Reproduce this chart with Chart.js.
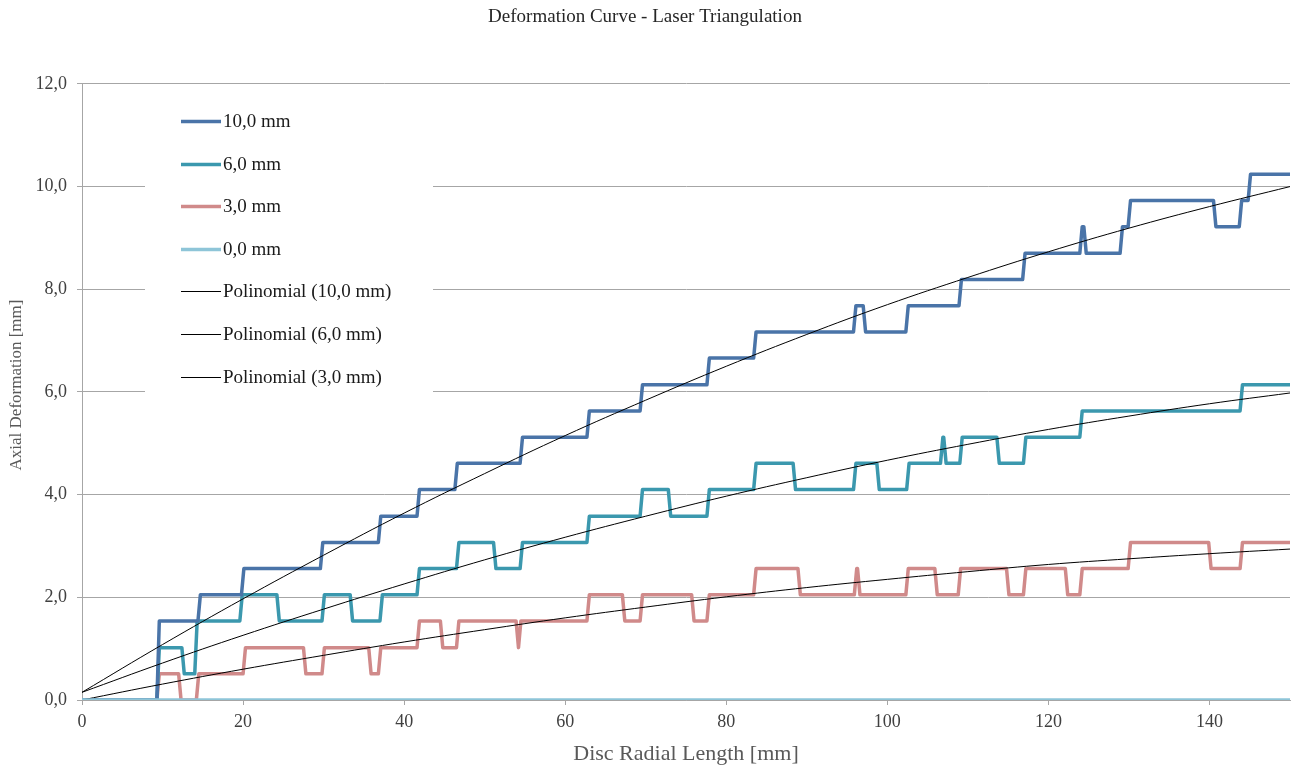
<!DOCTYPE html>
<html>
<head>
<meta charset="utf-8">
<title>Deformation Curve - Laser Triangulation</title>
<script src="https://cdn.jsdelivr.net/npm/chart.js@4.4.1/dist/chart.umd.min.js"></script>
<style>
  html, body { margin: 0; padding: 0; background: #fff; }
  #wrap { width: 1294px; height: 765px; }
</style>
</head>
<body>
<div id="wrap"><canvas id="deformation-chart" width="1294" height="765"></canvas></div>
<script>
// Measured profiles: x [mm] where the reading jumps, and the new level [mm]
const steps10X = [9.3, 14.4, 19.8, 29.6, 36.8, 41.6, 46.3, 54.4, 62.7, 69.3, 77.6, 83.4,
  95.8, 97.0, 102.3, 108.9, 116.8, 123.9, 124.4, 128.9, 129.9, 140.5, 143.7, 144.8];
const steps10Y = [1.54, 2.05, 2.56, 3.07, 3.58, 4.10, 4.61, 5.12, 5.63, 6.14, 6.66, 7.17,
  7.68, 7.17, 7.68, 8.19, 8.70, 9.22, 8.70, 9.22, 9.73, 9.22, 9.73, 10.24];

const steps6X = [9.3, 12.4, 14.0, 19.6, 24.2, 29.8, 33.3, 37.0, 41.6, 46.5, 51.1, 54.4,
  62.7, 69.3, 72.8, 77.6, 83.4, 88.3, 95.8, 98.7, 102.4, 106.6, 107.0, 109.0, 113.6, 116.9, 123.9, 143.8];
const steps6Y = [1.02, 0.51, 1.54, 2.05, 1.54, 2.05, 1.54, 2.05, 2.56, 3.07, 2.56, 3.07,
  3.58, 4.10, 3.58, 4.10, 4.61, 4.10, 4.61, 4.10, 4.61, 5.12, 4.61, 5.12, 4.61, 5.12, 5.63, 6.14];

const steps3X = [9.3, 12.0, 14.2, 20.0, 27.5, 29.8, 35.6, 36.8, 41.6, 44.5, 46.5, 53.9, 54.2,
  62.7, 67.1, 69.3, 75.7, 77.6, 83.4, 88.9, 95.9, 96.3, 102.3, 105.9, 108.8, 114.8, 116.9,
  122.1, 123.9, 129.9, 139.9, 143.8];
const steps3Y = [0.51, 0.00, 0.51, 1.02, 0.51, 1.02, 0.51, 1.02, 1.54, 1.02, 1.54, 1.02, 1.54,
  2.05, 1.54, 2.05, 1.54, 2.05, 2.56, 2.05, 2.56, 2.05, 2.56, 2.05, 2.56, 2.05, 2.56,
  2.05, 2.56, 3.07, 2.56, 3.07];

const steps0X = [];
const steps0Y = [];

// Polynomial trend lines, sampled every 10 mm
const trendX = [0, 10, 20, 30, 40, 50, 60, 70, 80, 90, 100, 110, 120, 130, 140, 150];
const trend10Y = [0.15, 1.08, 1.97, 2.82, 3.64, 4.41, 5.15, 5.84, 6.50, 7.12, 7.70, 8.23, 8.73, 9.19, 9.61, 10.00];
const trend6Y = [0.15, 0.72, 1.26, 1.77, 2.26, 2.73, 3.17, 3.58, 3.97, 4.33, 4.67, 4.98, 5.27, 5.53, 5.77, 5.98];
const trend3Y = [0.00, 0.31, 0.60, 0.87, 1.13, 1.37, 1.60, 1.81, 2.01, 2.19, 2.35, 2.50, 2.64, 2.75, 2.85, 2.94];

const xMax = 150;
const yTicks = [0, 2, 4, 6, 8, 10, 12];
const yTitle = 'Axial Deformation [mm]';

const RAMP = 0.3;
const SERIF = "'Liberation Serif', 'Times New Roman', serif";

// Turn jump positions into a stepped line
function buildSteps(xs, ys) {
    const pts = [{ x: 0, y: 0 }];
    let level = 0;
    xs.forEach((x, i) => {
        pts.push({ x: x, y: level });
        level = ys[i];
        pts.push({ x: x + RAMP, y: level });
    });
    pts.push({ x: xMax, y: level });
    return pts;
}

function buildTrend(ys) {
    return trendX.map((x, i) => ({ x: x, y: ys[i] }));
}

// Legend drawn inside the plot, on a white card like the original
const boxLegend = {
    id: 'boxLegend',
    beforeDatasetsDraw(chart) {
        const ctx = chart.ctx;
        ctx.save();
        ctx.fillStyle = '#ffffff';
        ctx.fillRect(145, 92, 288, 306);
        ctx.font = '19px ' + SERIF;
        ctx.textBaseline = 'middle';
        ctx.fillStyle = '#1a1a1a';
        chart.data.datasets.forEach((ds, i) => {
            const y = Math.round(121 + i * 42.6) + 0.5;
            ctx.strokeStyle = ds.borderColor;
            ctx.lineWidth = ds.borderWidth;
            ctx.beginPath();
            ctx.moveTo(181, y);
            ctx.lineTo(221, y);
            ctx.stroke();
            ctx.fillText(ds.label, 223, y + 1);
        });
        ctx.restore();
    },
    // y axis title sits a little above the middle in the original
    afterDraw(chart) {
        const ctx = chart.ctx;
        ctx.save();
        ctx.translate(17, 385);
        ctx.rotate(-Math.PI / 2);
        ctx.font = '17px ' + SERIF;
        ctx.fillStyle = '#595959';
        ctx.textAlign = 'center';
        ctx.textBaseline = 'middle';
        ctx.fillText(yTitle, 0, 0);
        ctx.restore();
    }
};

const chartElem = document.getElementById('deformation-chart');

new Chart(chartElem, {
    type: 'line',
    data: {
        datasets: [
            { label: '10,0 mm', data: buildSteps(steps10X, steps10Y), borderColor: '#4a74a8', borderWidth: 3.5, order: 1 },
            { label: '6,0 mm', data: buildSteps(steps6X, steps6Y), borderColor: '#3b98ae', borderWidth: 3.5, order: 1 },
            { label: '3,0 mm', data: buildSteps(steps3X, steps3Y), borderColor: '#d08a8a', borderWidth: 3.5, order: 1 },
            { label: '0,0 mm', data: buildSteps(steps0X, steps0Y), borderColor: '#8ec5d8', borderWidth: 3.5, order: 0 },
            { label: 'Polinomial (10,0 mm)', data: buildTrend(trend10Y), borderColor: '#000000', borderWidth: 1, tension: 0.4, order: 0 },
            { label: 'Polinomial (6,0 mm)', data: buildTrend(trend6Y), borderColor: '#000000', borderWidth: 1, tension: 0.4, order: 0 },
            { label: 'Polinomial (3,0 mm)', data: buildTrend(trend3Y), borderColor: '#000000', borderWidth: 1, tension: 0.4, order: 0 }
        ]
    },
    options: {
        responsive: false,
        devicePixelRatio: 1,
        animation: false,
        layout: { padding: { left: 0, right: 4, top: 0, bottom: 0 } },
        elements: {
            point: { radius: 0, hoverRadius: 0 },
            line: { fill: false, borderJoinStyle: 'round' }
        },
        plugins: {
            legend: { display: false },
            tooltip: { enabled: false },
            title: {
                display: true,
                text: 'Deformation Curve - Laser Triangulation',
                color: '#262626',
                font: { family: SERIF, size: 19, weight: 'normal', lineHeight: 1.1 },
                padding: { top: 7, bottom: 56 }
            }
        },
        scales: {
            x: {
                type: 'linear',
                min: 0,
                max: xMax,
                afterFit: (scale) => { scale.height = 65; },
                ticks: {
                    stepSize: 20,
                    includeBounds: false,
                    color: '#404040',
                    font: { family: SERIF, size: 18 },
                    padding: 6,
                    maxRotation: 0
                },
                grid: { display: true, drawOnChartArea: false, drawTicks: true, tickLength: 5, color: '#a6a6a6' },
                border: { display: true, color: '#a6a6a6' },
                title: {
                    display: true,
                    text: 'Disc Radial Length [mm]',
                    color: '#595959',
                    font: { family: SERIF, size: 22, lineHeight: 1 },
                    padding: { top: 0, bottom: 0 }
                }
            },
            y: {
                min: 0,
                max: 12,
                afterFit: (scale) => { scale.width = 82; },
                afterBuildTicks: (scale) => { scale.ticks = yTicks.map(v => ({ value: v })); },
                ticks: {
                    color: '#404040',
                    font: { family: SERIF, size: 18 },
                    padding: 10,
                    callback: (v) => v.toFixed(1).replace('.', ',')
                },
                grid: { color: '#a6a6a6', tickLength: 5, lineWidth: 1 },
                border: { display: true, color: '#a6a6a6' },
                title: { display: false }
            }
        }
    },
    plugins: [boxLegend]
});
</script>
</body>
</html>
